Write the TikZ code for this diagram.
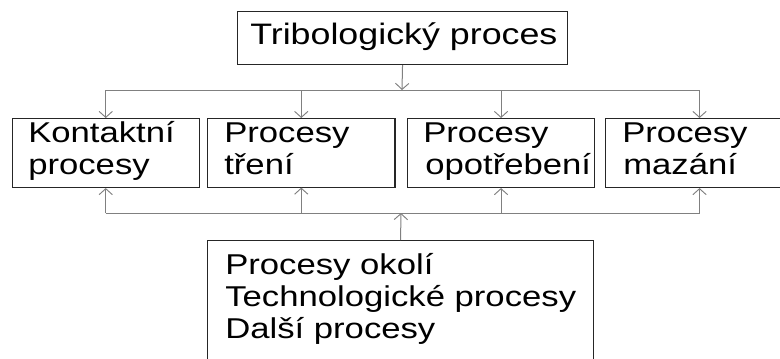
\documentclass[tikz,border=0pt]{standalone}
\usepackage{fontspec}
\setmainfont{Liberation Sans}[FakeStretch=1.21]
\usetikzlibrary{arrows.meta}
\begin{document}
\begin{tikzpicture}[x=0.75pt,y=-0.75pt,
  box/.style={draw=black!85,line width=0.8pt,inner sep=0pt},
  conn/.style={draw=black!50,line width=0.75pt},
  tip/.style={-{Straight Barb[length=4.5pt,width=10pt,line width=0.7pt]}},
  lbl/.style={anchor=base west,inner sep=0pt,font=\fontsize{21.5pt}{24pt}\selectfont}]
\useasboundingbox (0,0) rectangle (780,358);
\clip (0,0) rectangle (780,358);
\fill[white] (0,0) rectangle (780,358);
% boxes
\node[box,minimum width=247.5pt,minimum height=39.75pt,anchor=north west] (top) at (237,11) {};
\node[box,minimum width=140.25pt,minimum height=51.75pt,anchor=north west] (b1) at (11.7,118) {};
\node[box,minimum width=140.6pt,minimum height=51.4pt,anchor=north west] (b2) at (207,118) {};
\node[box,minimum width=140.25pt,minimum height=51.75pt,anchor=north west] (b3) at (407,118) {};
\node[box,minimum width=141pt,minimum height=51.75pt,anchor=north west] (b4) at (605,118) {};
\node[box,minimum width=289.5pt,minimum height=97.5pt,anchor=north west] (bot) at (207,240) {};
% texts
\node[lbl,font=\fontsize{22.2pt}{24pt}\selectfont] (t0) at (250,44) {Tribologický proces};
\node[lbl] (t1a) at (28,142) {Kontaktní};
\node[lbl] (t1b) at (28,174) {procesy};
\node[lbl] (t2a) at (224,142) {Procesy};
\node[lbl] (t2b) at (224,174) {tření};
\node[lbl] (t3a) at (423,142) {Procesy};
\node[lbl] (t3b) at (425,174) {opotřebení};
\node[lbl] (t4a) at (622,142) {Procesy};
\node[lbl] (t4b) at (623,174) {mazání};
\node[lbl] (t5a) at (225,274) {Procesy okolí};
\node[lbl] (t5b) at (225,306) {Technologické procesy};
\node[lbl] (t5c) at (225,338) {Další procesy};
% junctions
\coordinate (jt) at (402,90);
\coordinate (jb) at (401,213);
% top distribution
\draw[conn,tip] (top.south) -- (jt);
\draw[conn] (b1.north |- jt) -- (b4.north |- jt);
\foreach \b in {b1,b2,b3,b4}{\draw[conn,tip] (\b.north |- jt) -- (\b.north);}
% bottom distribution
\draw[conn,tip] (bot.north) -- (jb);
\draw[conn] (b1.south |- jb) -- (b4.south |- jb);
\foreach \b in {b1,b2,b3,b4}{\draw[conn,tip] (\b.south |- jb) -- (\b.south);}
\end{tikzpicture}
\end{document}
